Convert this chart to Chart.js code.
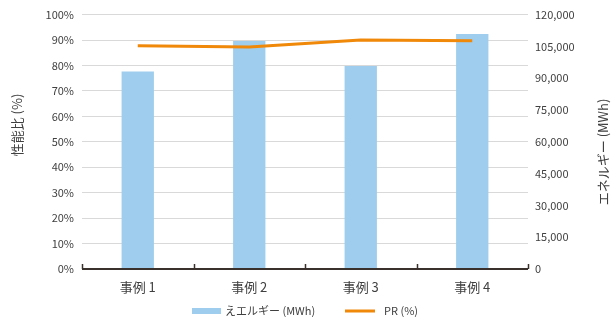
<!DOCTYPE html>
<html>
<head>
<meta charset="utf-8">
<script src="https://cdn.jsdelivr.net/npm/chart.js@4/dist/chart.umd.min.js"></script>
<style>
  html, body { margin: 0; padding: 0; background: #fff; }
  #wrap { width: 611px; height: 317px; }
</style>
</head>
<body>
<div id="wrap"><canvas id="c"></canvas></div>
<script>
// 事例ごとのエネルギー量と性能比
const cases = ['事例 1', '事例 2', '事例 3', '事例 4'];
const energy = [93200, 107600, 95700, 110900];
const pr = [87.8, 87.3, 90.0, 89.7];

const FONT = '"Noto Sans CJK JP", "Noto Sans", sans-serif';
const TEXT = '#404040';
const BAR = '#9fcdee';
const LINE = '#f0880a';

// x 軸の線・区切り目盛り・軸タイトル・凡例
const decoPlugin = {
  id: 'deco',
  afterDatasetsDraw(chart) {
    const { ctx, chartArea, scales: { x } } = chart;
    ctx.save();
    ctx.strokeStyle = '#3a302c';
    ctx.lineWidth = 2;
    ctx.beginPath();
    ctx.moveTo(chartArea.left, chartArea.bottom);
    ctx.lineTo(chartArea.right, chartArea.bottom);
    ctx.stroke();
    ctx.lineWidth = 1.5;
    const half = (x.getPixelForValue(1) - x.getPixelForValue(0)) / 2;
    for (let i = 0; i <= cases.length; i++) {
      const px = Math.round(x.getPixelForValue(i) - half) + 0.5;
      ctx.beginPath();
      ctx.moveTo(px, chartArea.bottom);
      ctx.lineTo(px, chartArea.bottom - 5);
      ctx.stroke();
    }
    ctx.restore();
  },
  afterDraw(chart) {
    const { ctx } = chart;
    ctx.save();
    ctx.fillStyle = TEXT;
    ctx.textAlign = 'center';
    ctx.textBaseline = 'middle';
    ctx.font = '13px ' + FONT;
    // 軸タイトル（どちらも下から上へ）
    ctx.save();
    ctx.translate(17, 125);
    ctx.rotate(-Math.PI / 2);
    ctx.fillText('性能比 (%)', 0, 0);
    ctx.restore();
    ctx.save();
    ctx.translate(603, 152);
    ctx.rotate(-Math.PI / 2);
    ctx.fillText('エネルギー (MWh)', 0, 0);
    ctx.restore();

    // 凡例
    const ly = 311;
    ctx.font = '11px ' + FONT;
    ctx.textAlign = 'left';
    ctx.fillStyle = BAR;
    ctx.fillRect(192, ly - 3, 29, 6);
    ctx.fillStyle = TEXT;
    ctx.fillText(chart.data.datasets[0].label, 225, ly);
    ctx.strokeStyle = LINE;
    ctx.lineWidth = 3;
    ctx.beginPath();
    ctx.moveTo(345, ly);
    ctx.lineTo(375, ly);
    ctx.stroke();
    ctx.fillText(chart.data.datasets[1].label, 384, ly);
    ctx.restore();
  }
};

new Chart(document.getElementById('c'), {
  data: {
    labels: cases,
    datasets: [
      {
        type: 'bar',
        label: 'えエルギー (MWh)',
        data: energy,
        yAxisID: 'y1',
        backgroundColor: BAR,
        barPercentage: 0.29,
        categoryPercentage: 1,
        order: 2
      },
      {
        type: 'line',
        label: 'PR (%)',
        data: pr,
        yAxisID: 'y',
        borderColor: LINE,
        backgroundColor: LINE,
        borderWidth: 3,
        pointRadius: 0,
        tension: 0,
        order: 1
      }
    ]
  },
  options: {
    responsive: true,
    maintainAspectRatio: false,
    animation: false,
    layout: { padding: { left: 0, right: 0, top: 8, bottom: 0 } },
    plugins: {
      tooltip: { enabled: false },
      legend: { display: false }
    },
    scales: {
      x: {
        grid: { display: false },
        border: { display: false },
        ticks: { color: TEXT, font: { family: FONT, size: 13 }, padding: 2 },
        afterFit: s => { s.height = 48; }
      },
      y: {
        position: 'left',
        min: 0,
        max: 100,
        grid: { color: '#d9d9d9', drawTicks: false },
        border: { display: false },
        ticks: {
          stepSize: 10,
          padding: 8,
          color: TEXT,
          font: { family: FONT, size: 11 },
          callback: v => v + '%'
        },
        afterFit: s => { s.width = 82; }
      },
      y1: {
        position: 'right',
        min: 0,
        max: 120000,
        grid: { display: false, drawTicks: false },
        border: { display: false },
        ticks: {
          stepSize: 15000,
          padding: 7,
          color: TEXT,
          font: { family: FONT, size: 11 },
          callback: v => v.toLocaleString('en-US')
        },
        afterFit: s => { s.width = 83; }
      }
    }
  },
  plugins: [decoPlugin]
});
</script>
</body>
</html>
